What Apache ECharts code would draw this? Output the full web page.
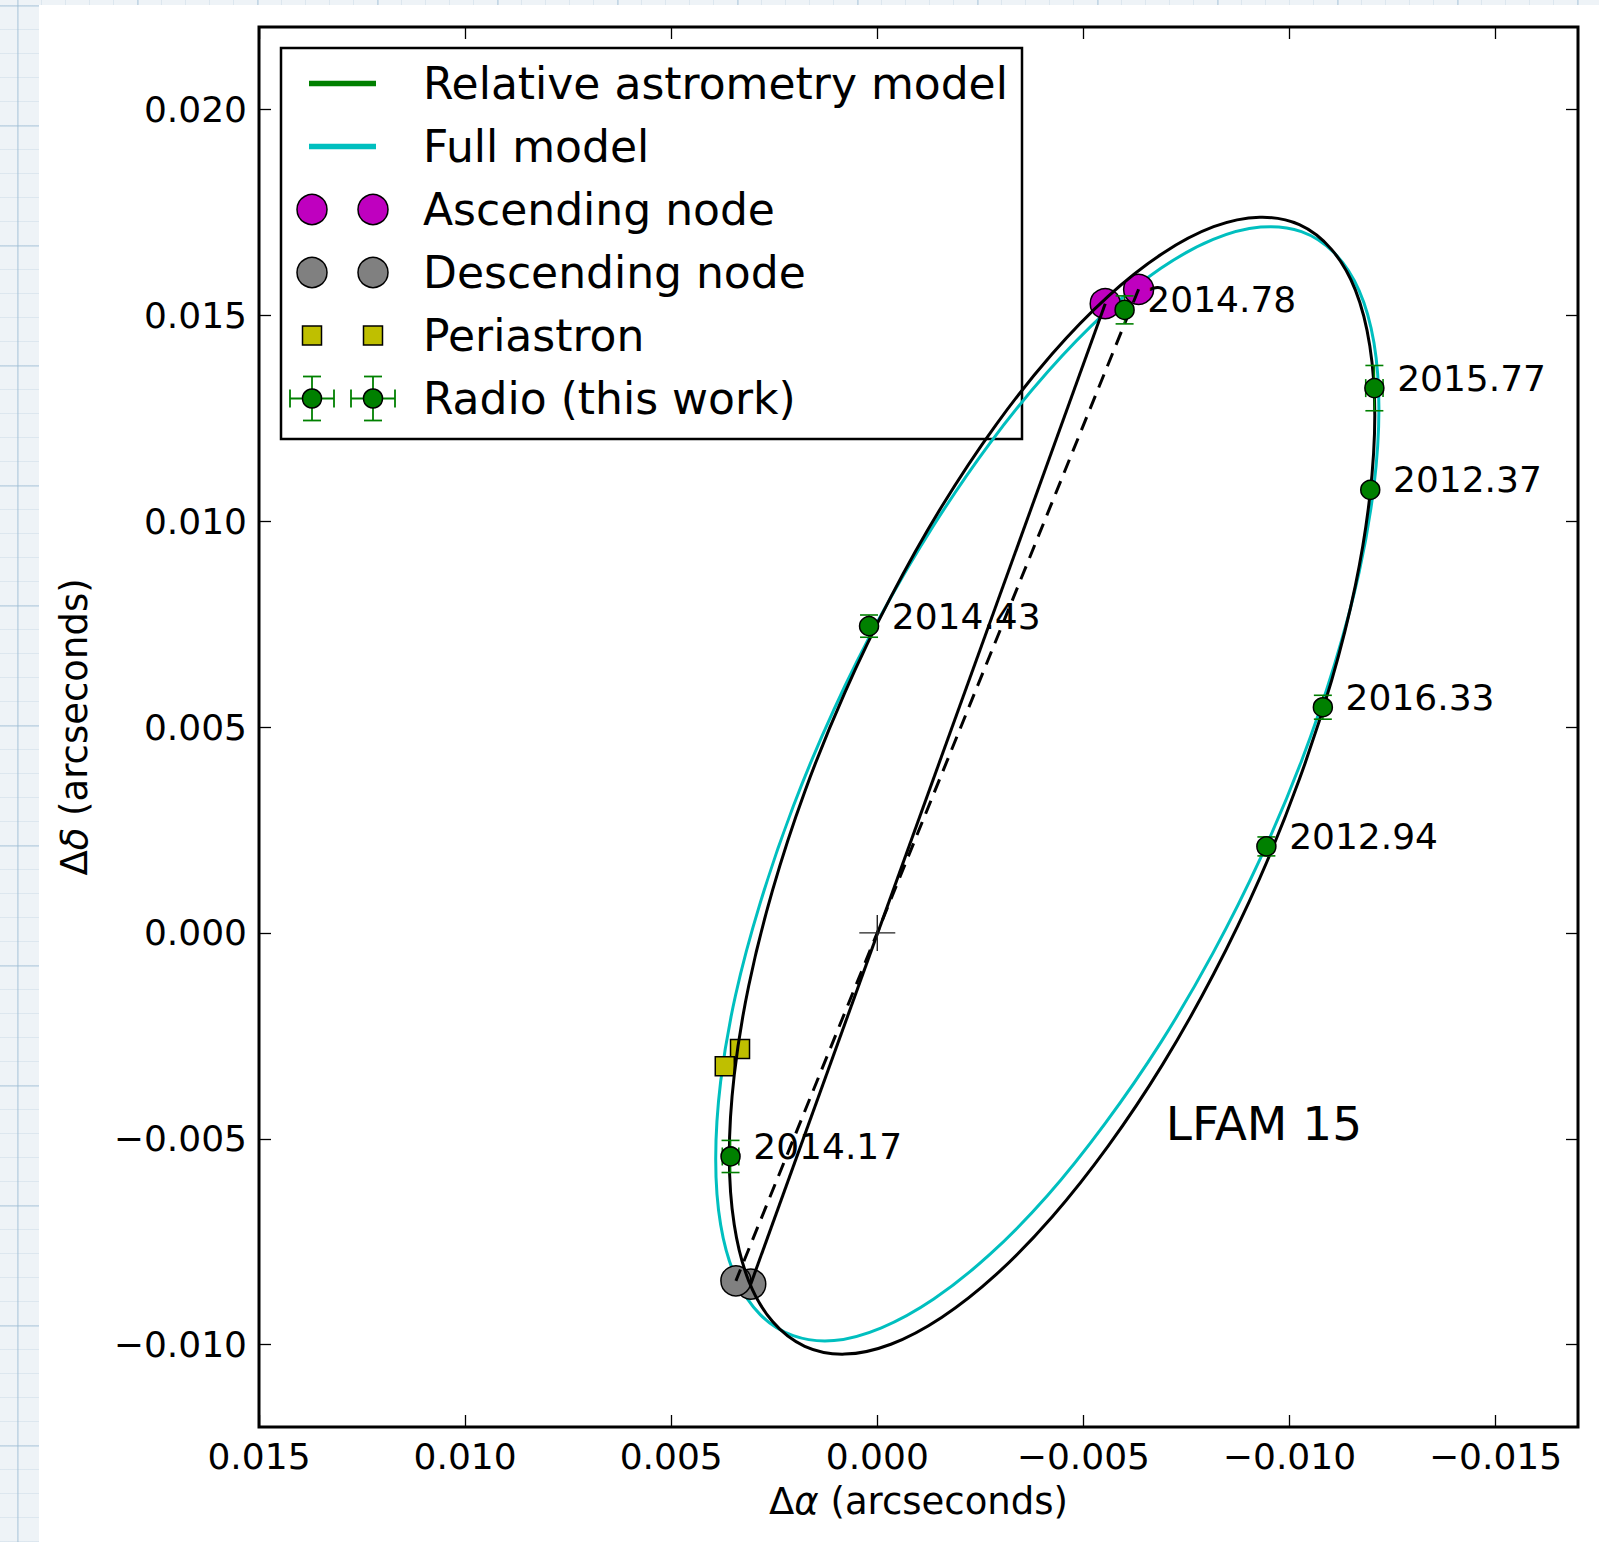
<!DOCTYPE html>
<html><head><meta charset="utf-8">
<script src="https://cdn.jsdelivr.net/npm/echarts@6/dist/echarts.min.js"></script>
<style>
html,body{margin:0;padding:0;width:1599px;height:1542px;overflow:hidden;}
body{background-color:#eef3f7;background-image:
 linear-gradient(to right, rgba(150,185,210,0.35) 2px, transparent 2px),
 linear-gradient(to bottom, rgba(150,185,210,0.35) 2px, transparent 2px),
 linear-gradient(to right, rgba(170,195,215,0.25) 1px, transparent 1px),
 linear-gradient(to bottom, rgba(170,195,215,0.25) 1px, transparent 1px);
 background-size:120px 120px,120px 120px,24px 24px,24px 24px;
 background-position:17px 0,0 5px,17px 0,0 5px;}
#paper{position:absolute;left:39px;top:5px;right:0;bottom:0;background:#fff;}
#chart{position:absolute;left:0;top:0;width:1599px;height:1542px;}
</style></head>
<body><div id="paper"></div><div id="chart"></div>
<script>
// ---------- data (arcseconds) ----------
const xTicks = [0.015, 0.010, 0.005, 0.000, -0.005, -0.010, -0.015];
const yTicks = [-0.010, -0.005, 0.000, 0.005, 0.010, 0.015, 0.020];

const epochLabels = ['2012.37', '2012.94', '2014.17', '2014.43', '2014.78', '2015.77', '2016.33'];
const radioX    = [-0.01196, -0.00944, 0.00356, 0.00020, -0.00600, -0.01206, -0.01081];
const radioY    = [ 0.01076,  0.00210, -0.00543, 0.00745, 0.01513, 0.01323, 0.00548];
const radioXErr = [ 0.00003,  0.00005, 0.00020, 0.00005, 0.00008, 0.00021, 0.00008];
const radioYErr = [ 0.00004,  0.00023, 0.00039, 0.00027, 0.00034, 0.00055, 0.00029];

// Relative astrometry model orbit (drawn black)
const relModelX = [-0.00816,-0.00692,-0.00560,-0.00424,-0.00288,-0.00156,-0.00033,0.00079,0.00176,0.00254,0.00312,0.00347,0.00359,0.00347,0.00312,0.00254,0.00176,0.00079,-0.00033,-0.00156,-0.00288,-0.00424,-0.00560,-0.00692,-0.00816,-0.00928,-0.01024,-0.01102,-0.01160,-0.01195,-0.01207,-0.01195,-0.01160,-0.01102,-0.01024,-0.00928];
const relModelY = [-0.00100,-0.00320,-0.00518,-0.00690,-0.00830,-0.00934,-0.00999,-0.01023,-0.01004,-0.00944,-0.00845,-0.00709,-0.00541,-0.00345,-0.00129,0.00104,0.00343,0.00583,0.00816,0.01035,0.01234,0.01406,0.01546,0.01650,0.01715,0.01738,0.01720,0.01660,0.01561,0.01425,0.01257,0.01061,0.00844,0.00612,0.00373,0.00133];

// Full model orbit (cyan)
const fullModelX = [-0.00815,-0.00688,-0.00552,-0.00413,-0.00273,-0.00137,-0.00010,0.00105,0.00204,0.00284,0.00344,0.00380,0.00392,0.00380,0.00344,0.00284,0.00204,0.00105,-0.00010,-0.00137,-0.00273,-0.00413,-0.00552,-0.00688,-0.00815,-0.00930,-0.01029,-0.01109,-0.01169,-0.01205,-0.01217,-0.01205,-0.01169,-0.01109,-0.01029,-0.00930];
const fullModelY = [-0.00048,-0.00266,-0.00464,-0.00638,-0.00781,-0.00889,-0.00959,-0.00990,-0.00978,-0.00927,-0.00836,-0.00709,-0.00549,-0.00361,-0.00152,0.00073,0.00307,0.00543,0.00773,0.00990,0.01189,0.01362,0.01505,0.01614,0.01684,0.01714,0.01703,0.01651,0.01560,0.01433,0.01273,0.01086,0.00876,0.00651,0.00417,0.00182];

// [relative model, full model]
const ascNodeX  = [-0.00553, -0.00634];
const ascNodeY  = [ 0.01528,  0.01563];
const descNodeX = [ 0.00307,  0.00343];
const descNodeY = [-0.00853, -0.00845];
const periX     = [ 0.00333,  0.00370];
const periY     = [-0.00282, -0.00324];
const centerPt  = [0, 0];
const sourceName = 'LFAM 15';
const sourceNamePos = [-0.00700, -0.00463];

// ---------- helpers ----------
const FONT = 'DejaVu Sans';
const zip = (xs, ys) => xs.map((x, i) => [x, ys[i]]);
const fmt = v => Math.abs(v) < 1e-12 ? '0.000' : (v < 0 ? '\u2212' : '') + Math.abs(v).toFixed(3);

const chart = echarts.init(document.getElementById('chart'), null, {renderer: 'svg'});

const baseX = {
  type: 'value', min: -0.017, max: 0.015, inverse: true,
  splitLine: {show: false}, axisLine: {show: false, onZero: false}
};
const baseY = {
  type: 'value', min: -0.012, max: 0.022,
  splitLine: {show: false}, axisLine: {show: false, onZero: false}
};
const tickStyle = {show: true, inside: true, length: 12, lineStyle: {color: '#000', width: 1.3}};
const nameStyle = {fontSize: 37, fontFamily: FONT, color: '#000', rich: {
  d: {fontSize: 37, fontFamily: FONT, color: '#000'},
  a: {fontSize: 37, fontFamily: FONT, fontStyle: 'italic', color: '#000'},
  n: {fontSize: 37, fontFamily: FONT, color: '#000'}}};

// closed smooth orbit drawn through the library's coordinate system
function orbitSeries(xs, ys, color, z) {
  return {
    type: 'custom', z: z, silent: true, data: zip(xs, ys), encode: {x: 0, y: 1},
    renderItem: function (params, api) {
      if (params.dataIndex !== 0) return null;
      const pts = xs.map((x, i) => api.coord([x, ys[i]]));
      return {type: 'polygon', shape: {points: pts, smooth: 0.33},
              style: {fill: 'none', stroke: color, lineWidth: 3}};
    }
  };
}

const legendRows = [83.5, 146.5, 209.5, 272.5, 335.5, 398.5];
const legendTexts = ['Relative astrometry model', 'Full model', 'Ascending node', 'Descending node', 'Periastron', 'Radio (this work)'];
const LM = [312, 373];
const legendEls = [
  {type: 'rect', shape: {x: 281, y: 48, width: 741, height: 391}, style: {fill: '#fff', stroke: '#000', lineWidth: 2.5}},
  {type: 'line', shape: {x1: 309, y1: legendRows[0], x2: 376, y2: legendRows[0]}, style: {stroke: '#008000', lineWidth: 5.5}},
  {type: 'line', shape: {x1: 309, y1: legendRows[1], x2: 376, y2: legendRows[1]}, style: {stroke: '#00bfbf', lineWidth: 5.5}}
];
LM.forEach(cx => {
  legendEls.push({type: 'circle', shape: {cx: cx, cy: legendRows[2], r: 15}, style: {fill: '#bf00bf', stroke: '#000', lineWidth: 1.5}});
  legendEls.push({type: 'circle', shape: {cx: cx, cy: legendRows[3], r: 15}, style: {fill: '#808080', stroke: '#000', lineWidth: 1.5}});
  legendEls.push({type: 'rect', shape: {x: cx - 9.5, y: legendRows[4] - 9.5, width: 19, height: 19}, style: {fill: '#bfbf00', stroke: '#000', lineWidth: 1.5}});
  const cy = legendRows[5], e = 22, c = 9;
  const gs = {stroke: '#008000', lineWidth: 1.8};
  legendEls.push({type: 'line', shape: {x1: cx, y1: cy - e, x2: cx, y2: cy + e}, style: gs});
  legendEls.push({type: 'line', shape: {x1: cx - c, y1: cy - e, x2: cx + c, y2: cy - e}, style: gs});
  legendEls.push({type: 'line', shape: {x1: cx - c, y1: cy + e, x2: cx + c, y2: cy + e}, style: gs});
  legendEls.push({type: 'line', shape: {x1: cx - e, y1: cy, x2: cx + e, y2: cy}, style: gs});
  legendEls.push({type: 'line', shape: {x1: cx - e, y1: cy - c, x2: cx - e, y2: cy + c}, style: gs});
  legendEls.push({type: 'line', shape: {x1: cx + e, y1: cy - c, x2: cx + e, y2: cy + c}, style: gs});
  legendEls.push({type: 'circle', shape: {cx: cx, cy: cy, r: 9.5}, style: {fill: '#008000', stroke: '#000', lineWidth: 1.5}});
});
legendTexts.forEach((t, i) => {
  legendEls.push({type: 'text', x: 423, y: legendRows[i],
    style: {text: t, fontSize: 44, fontFamily: FONT, fill: '#000', align: 'left', verticalAlign: 'middle'}});
});

const option = {
  animation: false,
  backgroundColor: 'transparent',
  grid: {left: 259, top: 27, width: 1319, height: 1400, show: true, borderColor: '#000', borderWidth: 3, backgroundColor: 'transparent'},
  xAxis: [
    Object.assign({}, baseX, {
      position: 'bottom',
      axisTick: Object.assign({customValues: xTicks}, tickStyle),
      axisLabel: {customValues: xTicks, formatter: fmt, margin: 11, fontSize: 36, fontFamily: FONT, color: '#000'},
      name: '{d|\u0394}{a|\u03b1}{n| (arcseconds)}', nameLocation: 'middle', nameGap: 56,
      nameTextStyle: nameStyle
    }),
    Object.assign({}, baseX, {
      position: 'top',
      axisTick: Object.assign({customValues: xTicks}, tickStyle),
      axisLabel: {show: false, customValues: xTicks}
    })
  ],
  yAxis: [
    Object.assign({}, baseY, {
      position: 'left',
      axisTick: Object.assign({customValues: yTicks}, tickStyle),
      axisLabel: {customValues: yTicks, formatter: fmt, margin: 12, fontSize: 36, fontFamily: FONT, color: '#000'},
      name: '{d|\u0394}{a|\u03b4}{n| (arcseconds)}', nameLocation: 'middle', nameGap: 166,
      nameTextStyle: nameStyle
    }),
    Object.assign({}, baseY, {
      position: 'right',
      axisTick: Object.assign({customValues: yTicks}, tickStyle),
      axisLabel: {show: false, customValues: yTicks}
    })
  ],
  series: [
    orbitSeries(fullModelX, fullModelY, '#00bfbf', 1),
    {name: 'Ascending node', type: 'scatter', z: 2, silent: true, data: zip(ascNodeX, ascNodeY), symbol: 'circle', symbolSize: 30,
     itemStyle: {color: '#bf00bf', borderColor: '#000', borderWidth: 1.5, opacity: 1}},
    {name: 'Descending node', type: 'scatter', z: 2, silent: true, data: zip(descNodeX, descNodeY), symbol: 'circle', symbolSize: 30,
     itemStyle: {color: '#808080', borderColor: '#000', borderWidth: 1.5, opacity: 1}},
    {name: 'Periastron', type: 'scatter', z: 2, silent: true, data: zip(periX, periY), symbol: 'rect', symbolSize: 19,
     itemStyle: {color: '#bfbf00', borderColor: '#000', borderWidth: 1.5, opacity: 1}},
    orbitSeries(relModelX, relModelY, '#000', 3),
    {type: 'line', z: 3, silent: true, data: [[ascNodeX[0], ascNodeY[0]], [descNodeX[0], descNodeY[0]]],
     showSymbol: false, symbol: 'none', lineStyle: {color: '#000', width: 3}},
    {type: 'line', z: 3, silent: true, data: [[ascNodeX[1], ascNodeY[1]], [descNodeX[1], descNodeY[1]]],
     showSymbol: false, symbol: 'none', lineStyle: {color: '#000', width: 3, type: [14, 9]}},
    {type: 'scatter', z: 3, silent: true, data: [centerPt], symbolSize: 36,
     symbol: 'path://M17.3,0 h1.4 v17.3 h17.3 v1.4 h-17.3 v17.3 h-1.4 v-17.3 h-17.3 v-1.4 h17.3 z',
     itemStyle: {color: '#222', opacity: 1}},
    {type: 'custom', z: 4, silent: true,
     data: radioX.map((x, i) => [x, radioY[i], radioXErr[i], radioYErr[i]]),
     encode: {x: 0, y: 1},
     renderItem: function (params, api) {
       const x = api.value(0), y = api.value(1), ex = api.value(2), ey = api.value(3);
       const t = api.coord([x, y + ey]), b = api.coord([x, y - ey]);
       const l = api.coord([x + ex, y]), r = api.coord([x - ex, y]);
       const c = 9;
       const st = {stroke: '#008000', lineWidth: 1.6};
       return {type: 'group', children: [
         {type: 'line', shape: {x1: t[0], y1: t[1], x2: b[0], y2: b[1]}, style: st},
         {type: 'line', shape: {x1: t[0] - c, y1: t[1], x2: t[0] + c, y2: t[1]}, style: st},
         {type: 'line', shape: {x1: b[0] - c, y1: b[1], x2: b[0] + c, y2: b[1]}, style: st},
         {type: 'line', shape: {x1: l[0], y1: l[1], x2: r[0], y2: r[1]}, style: st},
         {type: 'line', shape: {x1: l[0], y1: l[1] - c, x2: l[0], y2: l[1] + c}, style: st},
         {type: 'line', shape: {x1: r[0], y1: r[1] - c, x2: r[0], y2: r[1] + c}, style: st}
       ]};
     }},
    {name: 'Radio (this work)', type: 'scatter', z: 5, silent: true, data: zip(radioX, radioY), symbol: 'circle', symbolSize: 19,
     itemStyle: {color: '#008000', borderColor: '#000', borderWidth: 1.5, opacity: 1},
     label: {show: true, position: 'right', distance: 12.5, offset: [0, -10],
       formatter: p => epochLabels[p.dataIndex], fontSize: 36, fontFamily: FONT, color: '#000'}},
    {type: 'custom', z: 5, silent: true, data: [sourceNamePos], encode: {x: 0, y: 1},
     renderItem: function (params, api) {
       const p = api.coord([api.value(0), api.value(1)]);
       return {type: 'text', x: p[0], y: p[1],
               style: {text: sourceName, fontSize: 47, fontFamily: FONT, fill: '#000', opacity: 1,
                       align: 'left', verticalAlign: 'middle'}};
     }}
  ],
  graphic: {elements: [{type: 'group', z: 100, children: legendEls}]}
};
chart.setOption(option);
</script></body></html>
